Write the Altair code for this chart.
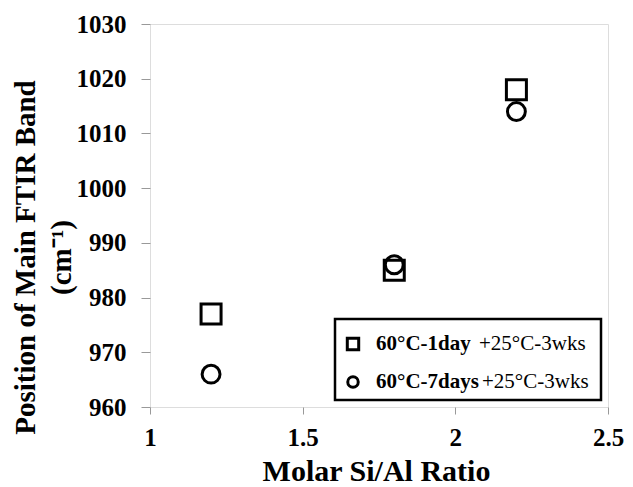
import altair as alt
import pandas as pd

si_al = [1.2, 1.8, 2.2]
band_1day = [977, 985, 1018]
band_7days = [966, 986, 1014]
series_names = ["60°C-1day +25°C-3wks", "60°C-7days+25°C-3wks"]
bold_parts = ["60°C-1day", "60°C-7days"]
normal_parts = ["+25°C-3wks", "+25°C-3wks"]
x_ticks = [1, 1.5, 2, 2.5]
y_ticks = [960, 970, 980, 990, 1000, 1010, 1020, 1030]

rows = []
for x, y in zip(si_al, band_1day):
    rows.append({"ratio": x, "band": y, "series": series_names[0]})
for x, y in zip(si_al, band_7days):
    rows.append({"ratio": x, "band": y, "series": series_names[1]})
df = pd.DataFrame(rows)

FONT = "Liberation Serif"

xscale = alt.Scale(domain=[1, 2.5], nice=False, zero=False)
yscale = alt.Scale(domain=[960, 1030], nice=False, zero=False)

points = alt.Chart(df).mark_point(filled=False, strokeWidth=3, color="black", opacity=1).encode(
    x=alt.X("ratio:Q", scale=xscale,
            axis=alt.Axis(title="Molar Si/Al Ratio", values=x_ticks, format="~g",
                          grid=False, domain=False, tickColor="#999999", tickSize=7,
                          labelPadding=11, labelFontSize=25, labelFont=FONT, labelFontWeight="bold",
                          labelColor="black", titleFont=FONT, titleFontSize=30, titleFontWeight="bold",
                          titleColor="black", titleBaseline="alphabetic", titleY=73, titleX=226,
                          labelFlush=False)),
    y=alt.Y("band:Q", scale=yscale,
            axis=alt.Axis(title=["Position of Main FTIR Band", "(cm⁻¹)"], values=y_ticks, format="d",
                          grid=False, domain=False, tickColor="#999999", tickSize=9,
                          labelPadding=15, labelFontSize=25, labelFont=FONT, labelFontWeight="bold",
                          labelColor="black", titleFont=FONT, titleFontSize=29, titleFontWeight="bold",
                          titleColor="black", titleBaseline="alphabetic", titleAngle=270,
                          titleX=-116, titleY=233, titleLineHeight=36, titleAlign="center")),
    shape=alt.Shape("series:N", scale=alt.Scale(domain=series_names, range=["square", "circle"]), legend=None),
    size=alt.Size("series:N", scale=alt.Scale(domain=series_names, range=[400, 320]), legend=None),
)

leg_df = pd.DataFrame({"series": series_names, "bold": bold_parts, "normal": normal_parts,
                       "row": [0, 1]})

legend_box = alt.Chart(pd.DataFrame({"a": [0]})).mark_rect(
    fill="white", stroke="black", strokeWidth=2.5).encode(
    x=alt.value(185), x2=alt.value(451), y=alt.value(295), y2=alt.value(376))

leg_y = alt.Y("row:Q", scale=alt.Scale(domain=[0, 1], range=[320, 358]), axis=None)

leg_sym = alt.Chart(leg_df).mark_point(filled=False, strokeWidth=3, color="black", opacity=1).encode(
    x=alt.value(203), y=leg_y,
    shape=alt.Shape("series:N", scale=alt.Scale(domain=series_names, range=["square", "circle"]), legend=None),
    size=alt.Size("series:N", scale=alt.Scale(domain=series_names, range=[130, 110]), legend=None))

leg_bold = alt.Chart(leg_df).mark_text(font=FONT, fontSize=21, fontWeight="bold", align="left",
                                       baseline="middle", color="black").encode(
    x=alt.value(226), y=leg_y, text="bold:N")

leg_norm = alt.Chart(leg_df).mark_text(font=FONT, fontSize=21, fontWeight="normal", align="left",
                                       baseline="middle", color="black").encode(
    x=alt.X("row:Q", scale=alt.Scale(domain=[0, 1], range=[329, 332]), axis=None), y=leg_y, text="normal:N")

chart = alt.layer(points, legend_box, leg_sym, leg_bold, leg_norm).resolve_scale(
    y="independent", x="independent", shape="independent", size="independent"
).properties(
    width=458, height=383,
    autosize=alt.AutoSizeParams(type="none"),
    padding={"left": 142, "top": 16, "right": 17, "bottom": 80},
).configure_view(stroke="black", strokeWidth=3).configure(background="white")

chart.save("out.html", embed_options={"renderer": "svg", "actions": False})
